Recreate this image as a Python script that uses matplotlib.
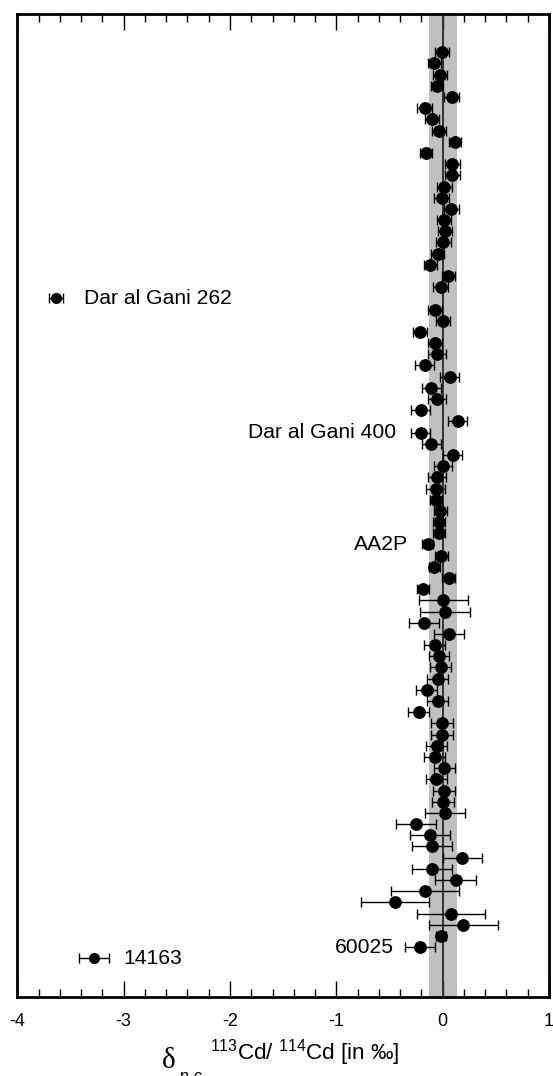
import numpy as np
import matplotlib
matplotlib.use("Agg")
import matplotlib.pyplot as plt
from matplotlib.ticker import MultipleLocator

plt.rcParams['font.family'] = ['Liberation Sans', 'DejaVu Sans']
plt.rcParams['mathtext.fontset'] = 'custom'
plt.rcParams['mathtext.rm'] = 'Liberation Sans'
plt.rcParams['mathtext.it'] = 'Liberation Sans:italic'
plt.rcParams['axes.unicode_minus'] = False

# delta 113Cd/114Cd (permil), one sample per row from top to bottom
delta = [
    -0.007, -0.079, -0.023, -0.054, 0.085, -0.167, -0.098, -0.035, 0.116, -0.157,
    0.090, 0.090, 0.015, -0.007, 0.081, 0.015, 0.024, 0.006, -0.047, -0.119,
    0.053, -0.019, -3.638, -0.070, 0.003, -0.216, -0.075, -0.054, -0.167, 0.066,
    -0.107, -0.054, -0.207, 0.141, -0.207, -0.107, 0.094, 0.003, -0.054, -0.066,
    -0.066, -0.023, -0.035, -0.035, -0.141, -0.013, -0.079, 0.056, -0.188, 0.006,
    0.019, -0.173, 0.062, -0.075, -0.035, -0.019, -0.047, -0.148, -0.047, -0.226,
    -0.007, -0.007, -0.056, -0.075, 0.015, -0.060, 0.015, 0.006, 0.022, -0.251,
    -0.117, -0.098, 0.184, -0.098, 0.122, -0.169, -0.452, 0.075, 0.194, -0.016,
    -0.214, -3.278,
]

# 2 sigma uncertainties
err = [
    0.067, 0.063, 0.064, 0.060, 0.069, 0.070, 0.064, 0.067, 0.060, 0.053,
    0.070, 0.070, 0.072, 0.070, 0.069, 0.064, 0.067, 0.069, 0.064, 0.061,
    0.063, 0.072, 0.068, 0.067, 0.070, 0.067, 0.064, 0.086, 0.089, 0.089,
    0.089, 0.086, 0.088, 0.089, 0.088, 0.089, 0.089, 0.089, 0.086, 0.088,
    0.055, 0.063, 0.058, 0.060, 0.053, 0.060, 0.052, 0.058, 0.056, 0.230,
    0.234, 0.140, 0.140, 0.096, 0.097, 0.100, 0.099, 0.099, 0.099, 0.099,
    0.103, 0.103, 0.099, 0.097, 0.100, 0.097, 0.103, 0.102, 0.185, 0.187,
    0.188, 0.187, 0.185, 0.187, 0.193, 0.321, 0.320, 0.321, 0.323, 0.050,
    0.138, 0.141,
]

# named samples and the rows they sit on
names = ["Dar al Gani 262", "Dar al Gani 400", "AA2P", "60025", "14163"]
name_rows = [22, 34, 44, 80, 81]

# the two strongly fractionated samples drawn with smaller symbols
small_rows = [22, 81]

delta = np.array(delta)
err = np.array(err)
rows = np.arange(len(delta))

fig = plt.figure(figsize=(5.53, 10.76), dpi=100)
ax = fig.add_axes([0.0313, 0.073, 0.9615, 0.91397])

# reproducibility band and zero line
ax.axvspan(-0.13, 0.13, color='#c0c0c0', lw=0, zorder=1)
ax.axvline(0, color='#333333', lw=1.4, zorder=2)

big = np.array([r not in small_rows for r in rows])
ax.errorbar(delta[big], rows[big], xerr=err[big], fmt='o', color='black',
            ms=8.2, elinewidth=1.0, capsize=3.6, capthick=1.0, zorder=3)
ax.errorbar(delta[~big], rows[~big], xerr=err[~big], fmt='o', color='black',
            ms=7.0, elinewidth=1.0, capsize=3.6, capthick=1.0, zorder=3)

# sample names, left or right of their symbol
offsets = {"Dar al Gani 262": (20, 'left'), "Dar al Gani 400": (-18, 'right'),
           "AA2P": (-14, 'right'), "60025": (-18.5, 'right'), "14163": (21, 'left')}
for name, r in zip(names, name_rows):
    dx, ha = offsets[name]
    ax.annotate(name, (delta[r], r), xytext=(dx, 0), textcoords='offset points',
                ha=ha, va='center', fontsize=15.2)

ax.set_xlim(-4, 1)
ax.set_ylim(84.5, -3.42)
ax.xaxis.set_major_locator(MultipleLocator(1))
ax.xaxis.set_minor_locator(MultipleLocator(0.2))
ax.tick_params(axis='x', which='both', direction='in', top=True, bottom=True,
               labelsize=13, pad=11.5)
ax.tick_params(axis='x', which='major', length=11.5, width=1.0)
ax.tick_params(axis='x', which='minor', length=5.8, width=1.0)
ax.set_yticks([])
for s in ax.spines.values():
    s.set_linewidth(2.0)

# axis title in pieces: delta symbol and its subscript sit lower than the rest
fig.text(162 / 553, 1 - 1068 / 1076, 'δ', fontsize=21, family='Liberation Serif',
         ha='left', va='baseline')
fig.text(180 / 553, 1 - 1081 / 1076, 'n c', fontsize=12, ha='left', va='baseline')
fig.text(210 / 553, 1 - 1060 / 1076, r'$^{113}$Cd/ $^{114}$Cd [in ‰]',
         fontsize=16.2, ha='left', va='baseline')

fig.savefig('out.png', dpi=100)
